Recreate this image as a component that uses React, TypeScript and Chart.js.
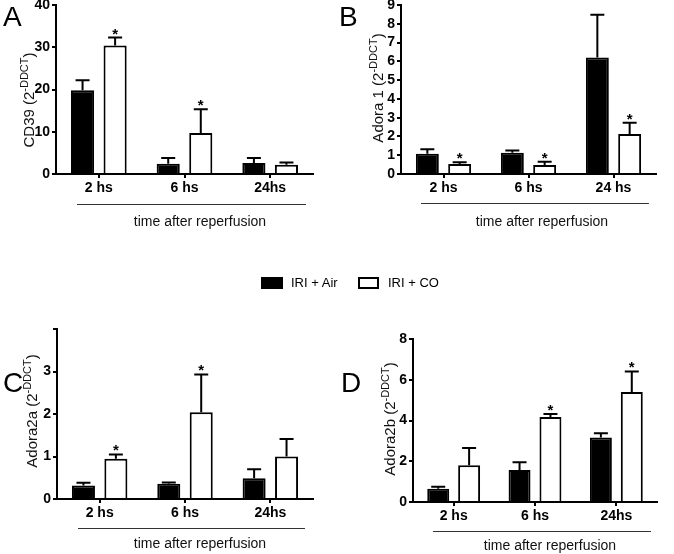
import React, { useEffect, useRef } from 'react';
import { Chart, registerables } from 'chart.js';

Chart.register(...registerables);

const PAGE_W = 674;
const PAGE_H = 554;
const FONT = '"Liberation Sans", Arial, Helvetica, sans-serif';

// ---------- data ----------
const seriesNames = ['IRI + Air', 'IRI + CO'];

const categoriesA = ['2 hs', '6 hs', '24hs'];
const airA = [19.8, 2.4, 2.6];
const airSemA = [2.4, 1.4, 1.2];
const coA = [30.4, 9.7, 2.2];
const coSemA = [1.9, 5.6, 0.5];
const starsA = [true, true, false];
const yTicksA = { max: 40, step: 10 };

const categoriesB = ['2 hs', '6 hs', '24 hs'];
const airB = [1.08, 1.13, 6.21];
const airSemB = [0.24, 0.12, 2.27];
const coB = [0.53, 0.48, 2.13];
const coSemB = [0.09, 0.17, 0.6];
const starsB = [true, true, true];
const yTicksB = { max: 9, step: 1 };

const categoriesC = ['2 hs', '6 hs', '24hs'];
const airC = [0.32, 0.36, 0.49];
const airSemC = [0.06, 0.03, 0.21];
const coC = [0.95, 2.04, 1.0];
const coSemC = [0.1, 0.89, 0.41];
const starsC = [true, true, false];
const yTicksC = { max: 4, step: 1 };

const categoriesD = ['2 hs', '6 hs', '24hs'];
const airD = [0.65, 1.57, 3.17];
const airSemD = [0.1, 0.38, 0.21];
const coD = [1.8, 4.17, 5.4];
const coSemD = [0.85, 0.15, 1.01];
const starsD = [false, true, true];
const yTicksD = { max: 8, step: 2 };

const xAxisTitle = 'time after reperfusion';
const yTitleSup = '-DDCT';

// ---------- layout (not data) ----------
type Panel = {
  cats: string[];
  air: number[];
  airSem: number[];
  co: number[];
  coSem: number[];
  stars: boolean[];
  yMax: number;
  yStep: number;
  hideTop?: boolean;
  yTitle: string;
  area: { l: number; t: number; r: number; b: number };
  yTitlePos: { x: number; y: number };
  bracket: { x1: number; x2: number; y: number };
  xTitlePos: { x: number; y: number };
};

const panels: Panel[] = [
  {
    cats: categoriesA, air: airA, airSem: airSemA, co: coA, coSem: coSemA, stars: starsA,
    yMax: yTicksA.max, yStep: yTicksA.step, yTitle: 'CD39 (2',
    area: { l: 56, t: 5, r: 313, b: 174 },
    yTitlePos: { x: 30, y: 100 },
    bracket: { x1: 77, x2: 306, y: 204 },
    xTitlePos: { x: 200, y: 222 },
  },
  {
    cats: categoriesB, air: airB, airSem: airSemB, co: coB, coSem: coSemB, stars: starsB,
    yMax: yTicksB.max, yStep: yTicksB.step, yTitle: 'Adora 1 (2',
    area: { l: 401, t: 5, r: 656, b: 174 },
    yTitlePos: { x: 379, y: 88 },
    bracket: { x1: 421, x2: 649, y: 203 },
    xTitlePos: { x: 542, y: 222 },
  },
  {
    cats: categoriesC, air: airC, airSem: airSemC, co: coC, coSem: coSemC, stars: starsC,
    yMax: yTicksC.max, yStep: yTicksC.step, hideTop: true, yTitle: 'Adora2a (2',
    area: { l: 57, t: 329, r: 313, b: 499 },
    yTitlePos: { x: 33, y: 411 },
    bracket: { x1: 78, x2: 305, y: 528 },
    xTitlePos: { x: 200, y: 544 },
  },
  {
    cats: categoriesD, air: airD, airSem: airSemD, co: coD, coSem: coSemD, stars: starsD,
    yMax: yTicksD.max, yStep: yTicksD.step, yTitle: 'Adora2b (2',
    area: { l: 413, t: 339, r: 657, b: 502 },
    yTitlePos: { x: 391, y: 419 },
    bracket: { x1: 433, x2: 651, y: 531 },
    xTitlePos: { x: 550, y: 546 },
  },
];

const Y_AXIS_W = 50;
const X_AXIS_H = 30;

function PanelChart({ p }: { p: Panel }) {
  const ref = useRef<HTMLCanvasElement | null>(null);
  useEffect(() => {
    const canvas = ref.current;
    if (!canvas) return;
    const sems = [p.airSem, p.coSem];
    const overlay = {
      id: 'overlay',
      afterDatasetsDraw(chart: any) {
        const ctx = chart.ctx;
        const ys = chart.scales.y;
        ctx.save();
        ctx.strokeStyle = '#000';
        ctx.fillStyle = '#000';
        ctx.lineWidth = 2;
        chart.data.datasets.forEach((ds: any, di: number) => {
          const meta = chart.getDatasetMeta(di);
          meta.data.forEach((el: any, j: number) => {
            const v = ds.data[j];
            const top = ys.getPixelForValue(v);
            const ey = ys.getPixelForValue(v + sems[di][j]);
            const x = el.x;
            ctx.beginPath();
            ctx.moveTo(x, top);
            ctx.lineTo(x, ey);
            ctx.moveTo(x - 7, ey);
            ctx.lineTo(x + 7, ey);
            ctx.stroke();
            if (di === 1 && p.stars[j]) {
              ctx.font = `bold 15px ${FONT}`;
              ctx.textAlign = 'center';
              ctx.textBaseline = 'alphabetic';
              ctx.fillText('*', x, ey + 1);
            }
          });
        });
        ctx.restore();
      },
      afterDraw(chart: any) {
        const ctx = chart.ctx;
        ctx.save();
        // bracket line
        ctx.strokeStyle = '#333';
        ctx.lineWidth = 1;
        ctx.beginPath();
        ctx.moveTo(p.bracket.x1, p.bracket.y + 0.5);
        ctx.lineTo(p.bracket.x2, p.bracket.y + 0.5);
        ctx.stroke();
        // x title
        ctx.fillStyle = '#111';
        ctx.font = `14px ${FONT}`;
        ctx.textAlign = 'center';
        ctx.textBaseline = 'middle';
        ctx.fillText(xAxisTitle, p.xTitlePos.x, p.xTitlePos.y);
        // y title with superscript
        ctx.translate(p.yTitlePos.x, p.yTitlePos.y);
        ctx.rotate(-Math.PI / 2);
        const mainFont = `15px ${FONT}`;
        const supFont = `11px ${FONT}`;
        ctx.font = mainFont;
        const w1 = ctx.measureText(p.yTitle).width;
        const w3 = ctx.measureText(')').width;
        ctx.font = supFont;
        const w2 = ctx.measureText(yTitleSup).width;
        let x0 = -(w1 + w2 + w3) / 2;
        ctx.textAlign = 'left';
        ctx.textBaseline = 'middle';
        ctx.font = mainFont;
        ctx.fillText(p.yTitle, x0, 0);
        x0 += w1;
        ctx.font = supFont;
        ctx.fillText(yTitleSup, x0, -5);
        x0 += w2;
        ctx.font = mainFont;
        ctx.fillText(')', x0, 0);
        ctx.restore();
      },
    };

    const chart = new Chart(canvas, {
      type: 'bar',
      data: {
        labels: p.cats,
        datasets: [
          {
            label: seriesNames[0],
            data: p.air,
            backgroundColor: '#000',
            borderColor: '#000',
            borderWidth: 2,
            categoryPercentage: 0.76,
            barPercentage: 0.71,
          },
          {
            label: seriesNames[1],
            data: p.co,
            backgroundColor: '#fff',
            borderColor: '#000',
            borderWidth: 2,
            categoryPercentage: 0.76,
            barPercentage: 0.71,
          },
        ],
      },
      options: {
        animation: false,
        responsive: false,
        maintainAspectRatio: false,
        devicePixelRatio: 1,
        events: [],
        layout: {
          padding: {
            left: p.area.l - Y_AXIS_W,
            top: p.area.t,
            right: PAGE_W - p.area.r,
            bottom: PAGE_H - p.area.b - X_AXIS_H,
          },
        },
        plugins: { legend: { display: false }, tooltip: { enabled: false }, title: { display: false } },
        scales: {
          x: {
            offset: true,
            ticks: {
              color: '#000',
              font: { family: FONT, size: 14, weight: 'bold' },
              padding: 2,
              maxRotation: 0,
              autoSkip: false,
            },
            grid: {
              display: true,
              drawOnChartArea: false,
              drawTicks: true,
              tickLength: 4,
              lineWidth: 2,
              color: '#000',
              offset: false,
            },
            border: { display: true, width: 2, color: '#000' },
            afterFit: (s: any) => {
              s.height = X_AXIS_H;
              s.paddingLeft = 0;
              s.paddingRight = 0;
            },
          },
          y: {
            min: 0,
            max: p.yMax,
            ticks: {
              stepSize: p.yStep,
              autoSkip: false,
              color: '#000',
              font: { family: FONT, size: 14, weight: 'bold' },
              padding: 2,
              callback: (v: any) => (p.hideTop && Number(v) === p.yMax ? '' : String(v)),
            },
            grid: {
              display: true,
              drawOnChartArea: false,
              drawTicks: true,
              tickLength: 4,
              lineWidth: 2,
              color: '#000',
            },
            border: { display: true, width: 2, color: '#000' },
            afterFit: (s: any) => {
              s.width = Y_AXIS_W;
              s.paddingTop = 0;
              s.paddingBottom = 0;
            },
          },
        },
      } as any,
      plugins: [overlay],
    });
    return () => chart.destroy();
  }, [p]);
  return (
    <canvas
      ref={ref}
      width={PAGE_W}
      height={PAGE_H}
      style={{ position: 'absolute', left: 0, top: 0, width: PAGE_W, height: PAGE_H }}
    />
  );
}

const letterStyle: React.CSSProperties = {
  position: 'absolute',
  fontFamily: FONT,
  fontSize: 28,
  lineHeight: '28px',
  color: '#000',
};

export default function App() {
  useEffect(() => {
    document.body.style.margin = '0';
  }, []);
  return (
    <div style={{ position: 'relative', width: PAGE_W, height: PAGE_H, background: '#fff', overflow: 'hidden' }}>
      {panels.map((p, i) => (
        <PanelChart key={i} p={p} />
      ))}
      <div style={{ ...letterStyle, left: 3, top: 3 }}>A</div>
      <div style={{ ...letterStyle, left: 339, top: 3 }}>B</div>
      <div style={{ ...letterStyle, left: 3, top: 369 }}>C</div>
      <div style={{ ...letterStyle, left: 341, top: 369 }}>D</div>
      <div style={{ position: 'absolute', left: 261, top: 277, width: 22, height: 12, background: '#000' }} />
      <div
        style={{ position: 'absolute', left: 291, top: 275, fontFamily: FONT, fontSize: 13, lineHeight: '16px', color: '#000' }}
      >
        {seriesNames[0]}
      </div>
      <div
        style={{ position: 'absolute', left: 358, top: 277, width: 21, height: 12, boxSizing: 'border-box', border: '2px solid #000', background: '#fff' }}
      />
      <div
        style={{ position: 'absolute', left: 388, top: 275, fontFamily: FONT, fontSize: 13, lineHeight: '16px', color: '#000' }}
      >
        {seriesNames[1]}
      </div>
    </div>
  );
}
